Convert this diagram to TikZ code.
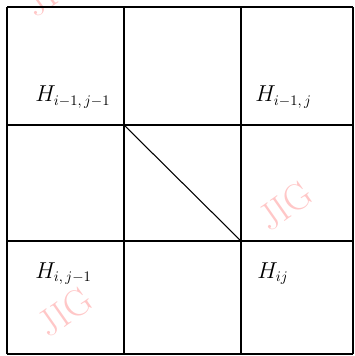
\documentclass[tikz,border=0pt]{standalone}
\usepackage{tikz}

\begin{document}
\begin{tikzpicture}[x=0.75pt, y=-0.75pt,
        cellname/.style={anchor=base west, inner sep=0pt, font=\fontsize{16}{19}\selectfont},
        mark jig/.style={text=red!22, font=\fontsize{28}{28}\selectfont, rotate=35}]

        \useasboundingbox (0,0) rectangle (354,356);

        % watermarks
        \node[mark jig] (w1) at (52, -8) {JIG};
        \node[mark jig] (w2) at (285, 206) {JIG};
        \node[mark jig] (w3) at (65, 312) {JIG};

        % grid
        \draw[line width=1.2pt] (7,7) -- (353,7);
        \draw[line width=1.2pt] (7,125) -- (353,125);
        \draw[line width=1.2pt] (7,241) -- (353,241);
        \draw[line width=1.2pt] (7,354) -- (353,354);
        \draw[line width=2pt] (7,7) -- (7,354);
        \draw[line width=1.2pt] (124,7) -- (124,354);
        \draw[line width=1.2pt] (241,7) -- (241,354);
        \draw[line width=1.2pt] (353,7) -- (353,354);

        % diagonal step
        \coordinate (c1) at (124,125);
        \coordinate (c2) at (241,241);
        \draw[line width=0.8pt] (c1) -- (c2);

        \node[cellname] (h11) at (35,102) {$H_{i-1,\,j-1}$};
        \node[cellname] (h10) at (255,102) {$H_{i-1,\,j}$};
        \node[cellname] (h01) at (35,278) {$H_{i,\,j-1}$};
        \node[cellname] (h00) at (257,278) {$H_{ij}$};

    \end{tikzpicture}
\end{document}
